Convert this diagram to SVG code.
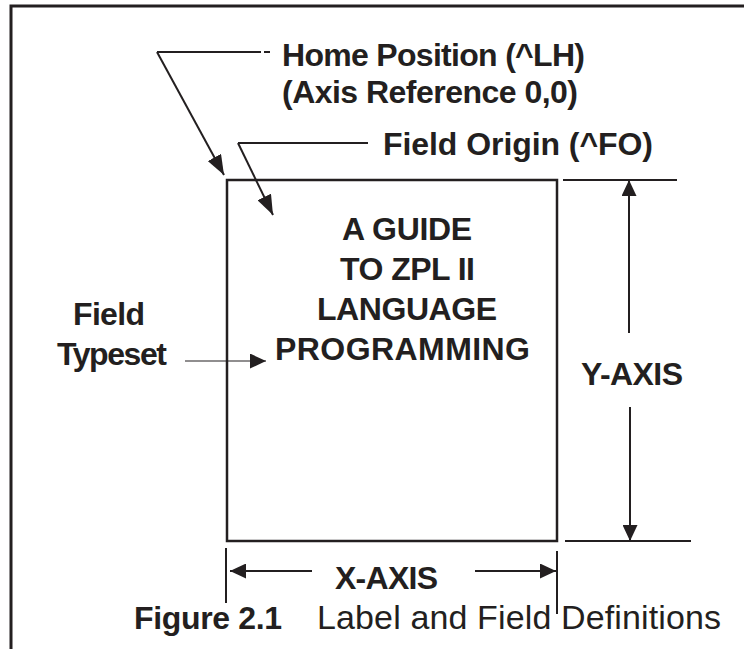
<svg xmlns="http://www.w3.org/2000/svg" width="744" height="649" viewBox="0 0 744 649">
<style>
.t{font-family:"Liberation Sans",Arial,sans-serif;font-weight:bold;font-size:32px;fill:#231f20}
.r{font-family:"Liberation Sans",Arial,sans-serif;font-size:34px;fill:#231f20}
.ln{stroke:#231f20;fill:none}
</style>
<defs>
<marker id="ah" markerUnits="userSpaceOnUse" markerWidth="16" markerHeight="15" refX="16" refY="7.5" orient="auto"><path d="M0,0L16,7.5L0,15z" fill="#231f20"/></marker>
<marker id="ahL" markerUnits="userSpaceOnUse" markerWidth="20" markerHeight="15" refX="20" refY="7.5" orient="auto"><path d="M0,0L20,7.5L0,15z" fill="#231f20"/></marker>
</defs>
<g id="frame">
<path class="ln" d="M11,649V6H744" stroke-width="3"/>
</g>
<g id="label-box">
<rect class="ln" x="227" y="180" width="330" height="361" stroke-width="2.5"/>
<text class="t" x="342" y="240" textLength="130">A GUIDE</text>
<text class="t" x="340" y="280" textLength="135">TO ZPL II</text>
<text class="t" x="317" y="320" textLength="180">LANGUAGE</text>
<text class="t" x="275" y="360" textLength="255">PROGRAMMING</text>
</g>
<g id="home-position">
<text class="t" x="282" y="66" textLength="303">Home Position (^LH)</text>
<text class="t" x="282" y="103" textLength="296">(Axis Reference 0,0)</text>
</g>
<g id="field-origin">
<text class="t" x="383" y="155" textLength="270">Field Origin (^FO)</text>
</g>
<g id="field-typeset">
<text class="t" x="73" y="325" textLength="72">Field</text>
<text class="t" x="57" y="365" textLength="110">Typeset</text>
</g>
<g id="y-axis">
<text class="t" x="581" y="385" textLength="102">Y-AXIS</text>
</g>
<g id="x-axis">
<text class="t" x="335" y="589" textLength="103">X-AXIS</text>
</g>
<g id="caption">
<text class="t" x="134" y="629" textLength="148">Figure 2.1</text>
<text class="r" x="317" y="629" textLength="404">Label and Field Definitions</text>
</g>
<g id="connectors">
<path class="ln" d="M157,52H261M264,52H270" stroke-width="2"/>
<path class="ln" d="M157,52L224,175" stroke-width="2" marker-end="url(#ahL)"/>
<path class="ln" d="M238,143H368" stroke-width="2"/>
<path class="ln" d="M238,143L273,215" stroke-width="2" marker-end="url(#ahL)"/>
<path class="ln" d="M185,361H266" stroke-width="1.2" marker-end="url(#ah)"/>
<path class="ln" d="M563,180H677M565,541H691" stroke-width="2"/>
<path class="ln" d="M629,333V180" stroke-width="2" marker-end="url(#ah)"/>
<path class="ln" d="M630,407V541" stroke-width="2" marker-end="url(#ah)"/>
<path class="ln" d="M226,548V603M557,551V614" stroke-width="2"/>
<path class="ln" d="M312,571H230" stroke-width="2" marker-end="url(#ah)"/>
<path class="ln" d="M475,571H556" stroke-width="2" marker-end="url(#ah)"/>
</g>
</svg>
